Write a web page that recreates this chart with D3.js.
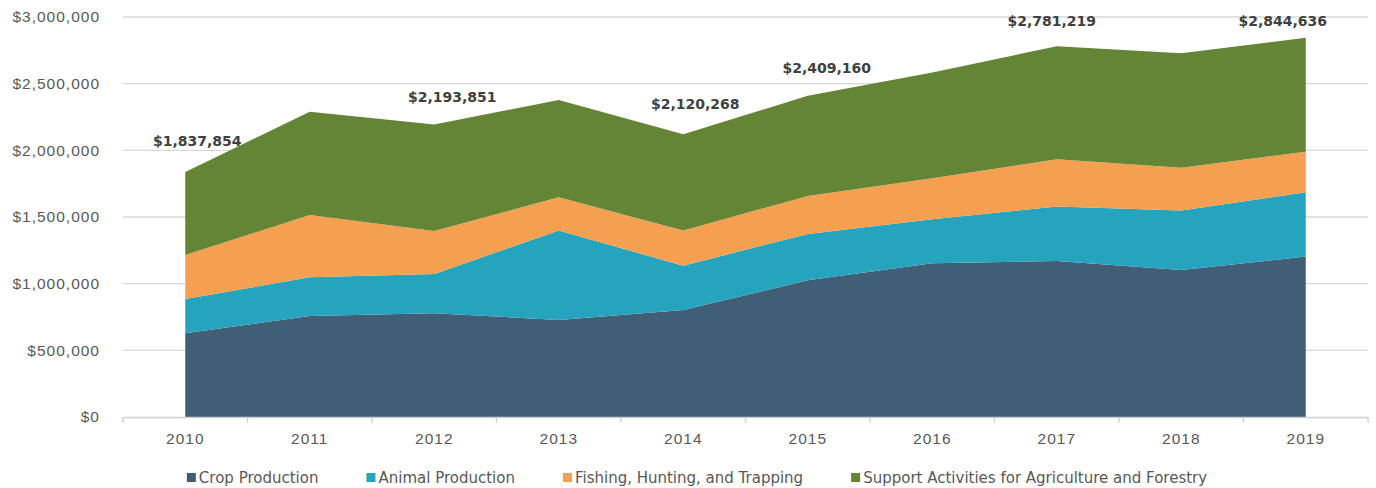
<!DOCTYPE html>
<html>
<head>
<meta charset="utf-8">
<script src="https://cdn.jsdelivr.net/npm/d3@7"></script>
<style>
  body { margin: 0; background: #fff; }
  svg { font-family: "DejaVu Sans", sans-serif; }
</style>
</head>
<body>
<svg width="1376" height="488"></svg>
<script>
// Data
const years = ["2010", "2011", "2012", "2013", "2014", "2015", "2016", "2017", "2018", "2019"];
const seriesNames = ["Crop Production", "Animal Production", "Fishing, Hunting, and Trapping", "Support Activities for Agriculture and Forestry"];
const crop    = [628000, 758000, 778000, 728000, 803000, 1025000, 1153000, 1170000, 1103000, 1203000];
const animal  = [257000, 290000, 295000, 670000, 332000, 348000, 330000, 408000, 445000, 483000];
const fishing = [330000, 467000, 322000, 250000, 263000, 285000, 307000, 355000, 322000, 304000];
const support = [622854, 775000, 798851, 730000, 722268, 751160, 793000, 848219, 858000, 854636];
const labelYears = ["2010", "2012", "2014", "2015", "2017", "2019"];
const yTicks = [0, 500000, 1000000, 1500000, 2000000, 2500000, 3000000];

const colors = ["#405f76", "#27a4bd", "#f4a050", "#658536"];

const svg = d3.select("svg");
const margin = {top: 17, right: 8, bottom: 71, left: 123};
const width = 1376, height = 488;

const rows = years.map((yr, i) => ({
  year: yr,
  [seriesNames[0]]: crop[i],
  [seriesNames[1]]: animal[i],
  [seriesNames[2]]: fishing[i],
  [seriesNames[3]]: support[i]
}));

const stacked = d3.stack().keys(seriesNames)(rows);

const x = d3.scaleBand().domain(years).range([margin.left, width - margin.right]);
const y = d3.scaleLinear().domain([0, 3000000]).range([height - margin.bottom, margin.top]);
const cx = d => x(d) + x.bandwidth() / 2;

// gridlines
svg.append("g")
  .selectAll("line")
  .data(yTicks.slice(1))
  .join("line")
  .attr("x1", margin.left).attr("x2", width - margin.right)
  .attr("y1", d => y(d)).attr("y2", d => y(d))
  .attr("stroke", "#d9d9d9").attr("stroke-width", 1.3);

// areas
const area = d3.area()
  .x(d => cx(d.data.year))
  .y0(d => y(d[0]))
  .y1(d => y(d[1]));

svg.append("g")
  .selectAll("path")
  .data(stacked)
  .join("path")
  .attr("d", area)
  .attr("fill", (d, i) => colors[i]);

// y axis labels
const yAxis = svg.append("g")
  .attr("transform", `translate(${margin.left},0)`)
  .call(d3.axisLeft(y).tickValues(yTicks).tickSize(0).tickPadding(23)
    .tickFormat(d => "$" + d3.format(",")(d)));
yAxis.select(".domain").remove();
yAxis.selectAll("text").attr("fill", "#595959")
  .style("font-size", "15.5px").style("letter-spacing", "1px");

// x axis
const xAxis = svg.append("g")
  .attr("transform", `translate(0,${y(0)})`)
  .call(d3.axisBottom(x).tickSize(0).tickPadding(16));
xAxis.select(".domain").attr("stroke", "#d0d0d0").attr("stroke-width", 1.3);
xAxis.selectAll("text").attr("fill", "#595959")
  .style("font-size", "15.5px").style("letter-spacing", "1px");
// boundary tick marks between categories
xAxis.append("g")
  .selectAll("line")
  .data(years.concat(["end"]))
  .join("line")
  .attr("x1", (d, i) => margin.left + i * x.bandwidth())
  .attr("x2", (d, i) => margin.left + i * x.bandwidth())
  .attr("y1", 0).attr("y2", 6)
  .attr("stroke", "#d0d0d0").attr("stroke-width", 1.3);

// total labels
const totals = years.map((yr, i) => crop[i] + animal[i] + fishing[i] + support[i]);
const labelShift = {"2010": 12, "2012": 18, "2014": 12, "2015": 19, "2017": -5, "2019": -23};
const labelLift = {"2010": 26, "2012": 22, "2014": 25, "2015": 23, "2017": 20, "2019": 12};
svg.append("g")
  .selectAll("text")
  .data(labelYears)
  .join("text")
  .attr("x", d => cx(d) + labelShift[d])
  .attr("y", d => y(totals[years.indexOf(d)]) - labelLift[d])
  .attr("text-anchor", "middle")
  .attr("fill", "#404040")
  .style("font-size", "14px")
  .style("font-weight", "bold")
  .text(d => "$" + d3.format(",")(totals[years.indexOf(d)]));

// legend
const legend = svg.append("g").attr("transform", "translate(0,478)");
const items = legend.selectAll("g").data(seriesNames).join("g");
items.append("rect")
  .attr("y", -5).attr("width", 9).attr("height", 9)
  .attr("fill", (d, i) => colors[i]);
items.append("text")
  .attr("x", 12).attr("y", 0).attr("dy", "0.35em")
  .attr("fill", "#595959")
  .style("font-size", "15px")
  .text(d => d);
let pos = 0;
const offsets = [];
items.each(function() {
  offsets.push(pos);
  pos += 12 + this.querySelector("text").getComputedTextLength() + 48;
});
const total = pos - 48;
const start = 697 - total / 2;
items.attr("transform", (d, i) => `translate(${start + offsets[i]},0)`);
</script>
</body>
</html>
